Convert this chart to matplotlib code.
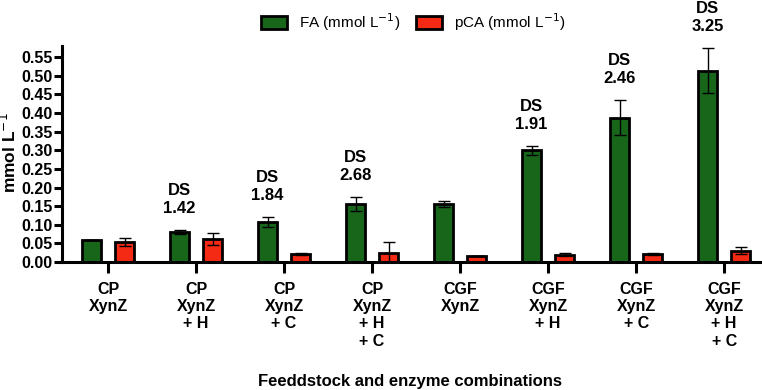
import matplotlib.pyplot as plt
import numpy as np

plt.rcParams['font.family'] = ['Liberation Sans', 'DejaVu Sans']

# data
categories = ['CP\nXynZ', 'CP\nXynZ\n+ H', 'CP\nXynZ\n+ C', 'CP\nXynZ\n+ H\n+ C',
              'CGF\nXynZ', 'CGF\nXynZ\n+ H', 'CGF\nXynZ\n+ C', 'CGF\nXynZ\n+ H\n+ C']
fa = [0.058, 0.081, 0.107, 0.156, 0.156, 0.300, 0.388, 0.514]
fa_err = [0.0, 0.006, 0.013, 0.020, 0.007, 0.012, 0.047, 0.060]
pca = [0.054, 0.061, 0.021, 0.025, 0.016, 0.020, 0.021, 0.031]
pca_err = [0.010, 0.016, 0.003, 0.030, 0.001, 0.005, 0.003, 0.010]
ds = [None, '1.42', '1.84', '2.68', None, '1.91', '2.46', '3.25']
yticks = np.arange(0, 0.56, 0.05)

green = '#17661A'
red = '#F42A14'

fig = plt.figure(figsize=(7.62, 3.9), dpi=100)
ax = fig.add_axes([0.0814, 0.328, 0.9186, 0.554])

x = np.arange(len(categories))
off = 0.187
w = 0.22
err_kw = dict(ecolor='black', elinewidth=1.0, capsize=4, capthick=1.0)
ax.bar(x - off, fa, w, yerr=fa_err, color=green, edgecolor='black', linewidth=2,
       error_kw=err_kw, label='FA (mmol L$^{-1}$)')
ax.bar(x + off, pca, w, yerr=pca_err, color=red, edgecolor='black', linewidth=2,
       error_kw=err_kw, label='pCA (mmol L$^{-1}$)')

# degree of substitution labels above the FA bars
for i, d in enumerate(ds):
    if d is None:
        continue
    ax.annotate('DS\n' + d, (x[i] - off, fa[i] + fa_err[i]), xytext=(0, 10),
                textcoords='offset points', ha='center', va='bottom',
                fontsize=12, fontweight='bold', linespacing=1.25,
                annotation_clip=False)

ax.set_xlim(-0.523, 7.43)
ax.set_ylim(0, 0.58)
ax.set_yticks(yticks)
ax.set_yticklabels([f'{v:.2f}' for v in yticks], fontsize=11.5, fontweight='bold')
ax.set_xticks(x)
ax.set_xticklabels(categories, fontsize=11.5, fontweight='bold', linespacing=1.2)
ax.tick_params(axis='y', length=6, width=2.2, pad=1)
ax.tick_params(axis='x', length=8, width=2.2, pad=6)

for s in ['top', 'right']:
    ax.spines[s].set_visible(False)
for s in ['left', 'bottom']:
    ax.spines[s].set_linewidth(2.2)

# y label placed by hand, it sits close to the figure edge
fig.text(9 / 762, 1 - 153 / 390, 'mmol L$^{-1}$', rotation=90, ha='center',
         va='center', fontsize=12.5, fontweight='bold')
fig.text(0.538, 0.01, 'Feeddstock and enzyme combinations', ha='center',
         fontsize=12, fontweight='bold')

fig.legend(loc='center', bbox_to_anchor=(0.542, 0.944), ncol=2, frameon=False,
           fontsize=11, handlelength=1.7, handleheight=0.9, columnspacing=1.0,
           handletextpad=0.8)

fig.savefig('out.png', dpi=100)
